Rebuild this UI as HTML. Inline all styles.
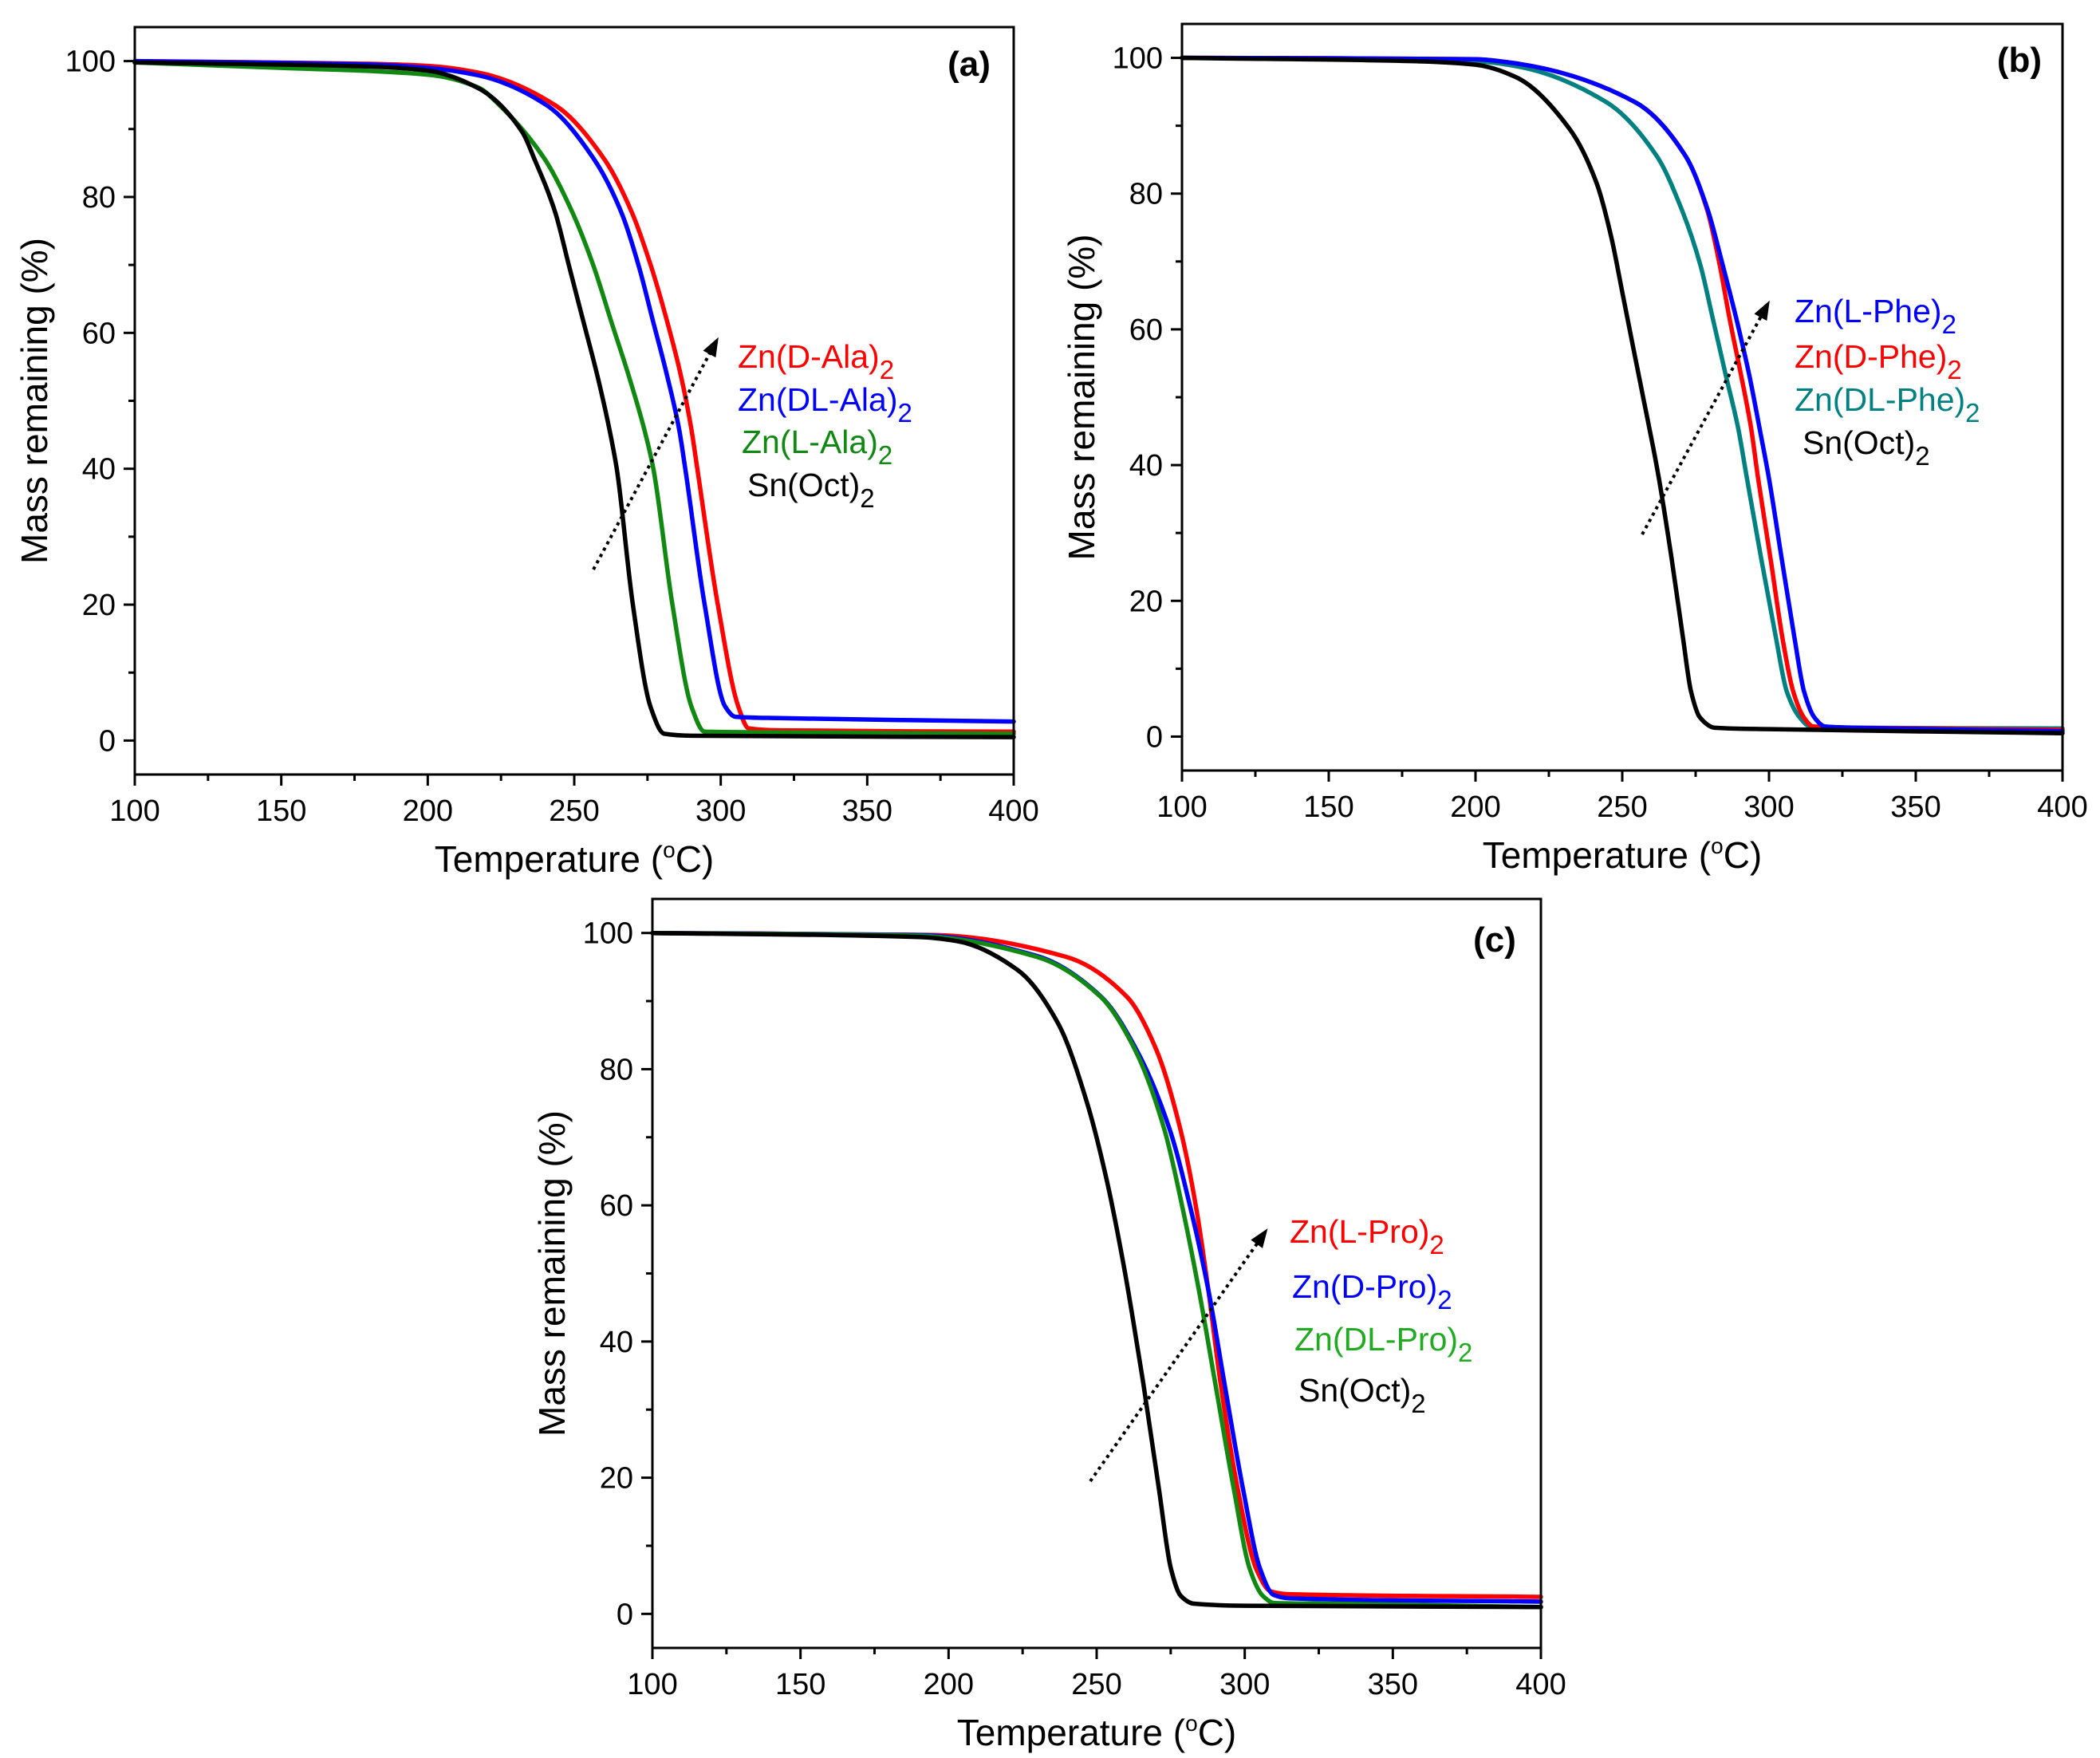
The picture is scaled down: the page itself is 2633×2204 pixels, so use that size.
<!DOCTYPE html>
<html><head><meta charset="utf-8"><style>
body{margin:0;background:#fff;}
svg{display:block;font-family:"Liberation Sans",Arial,sans-serif;}
</style></head><body>
<svg id="fig" width="2633" height="2204" viewBox="0 0 2633 2204" xmlns="http://www.w3.org/2000/svg"></svg>
<script>
// ---- shared axis ticks ----
const xTicks = [100,150,200,250,300,350,400];
const yTicks = [0,20,40,60,80,100];

// ---- panel (a) data ----
const aT_Sn   = [100,180,200,217.3,232.2,236.4,243.6,248.3,253.1,257.9,262,264.5,270,276,280.7,290,400];
const aV_Sn   = [99.8,99.2,98.6,96,89.6,85.6,77.6,69.7,61.7,53.7,45.8,40,20,5,1,0.7,0.5];
const aT_L    = [100,150,200,217.3,224.5,239.9,249.5,256.7,262.6,268.6,273.9,277,283.5,290,294.5,320,400];
const aV_L    = [99.8,99,98,96.1,93.5,85.6,77.6,69.7,61.7,53.7,45.8,40,20,5,1.3,1.2,1.0];
const aT_DL   = [100,180,200,217.3,240.6,256.7,266.2,272.1,276.9,281.7,285.8,287.9,294.5,301.5,305,320,400];
const aV_DL   = [100,99.5,99,97.9,93.5,85.6,77.6,69.7,61.7,53.7,45.8,40,20,5,3.5,3.3,2.8];
const aT_D    = [100,180,200,217.3,243.5,260.2,269.8,276.3,281.7,286.4,290,292,299,306,309.5,320,400];
const aV_D    = [100,99.6,99.3,98.3,93.5,85.6,77.6,69.7,61.7,53.7,45.8,40,20,5,1.8,1.5,1.3];

// ---- panel (b) data ----
const bT_Sn   = [100,180,200,213.6,232.1,241.3,246.3,250,253.7,257.4,260.5,262.5,266.8,270.7,273.4,276.5,281.5,300,400];
const bV_Sn   = [100,99.5,99,97.2,89.5,81.5,73.5,65.5,57.4,49.4,42.7,38,26.3,14.5,6.7,2.8,1.3,1.1,0.5];
const bT_DL   = [100,200,213.6,244.5,261.8,270.4,276.6,280.9,285.2,289.5,292.5,297.3,302.4,306,310.5,314,330,400];
const bV_DL   = [100,99.5,98.8,93.5,85.5,77.5,69.5,61.5,53.4,45.4,38,26.3,14.5,6.7,2.8,1.5,1.3,1.2];
const bT_D    = [100,200,213.6,254.3,271.6,279,283.2,286.6,290.4,293.9,296.3,300.5,304.6,308.2,311.9,315,330,400];
const bV_D    = [100,99.8,99.2,93.5,85.5,77.5,69.5,61.5,53.4,45.4,38,26.3,14.5,6.7,2.8,1.5,1.3,1.0];
const bT_L    = [100,200,213.6,254.3,271.6,279.2,284.2,288.9,293.2,296.8,300,304.3,308.7,311.9,315.5,319,330,400];
const bV_L    = [100,99.8,99.2,93.5,85.5,77.5,69.5,61.5,53.4,45.4,38,26.3,14.5,6.7,2.8,1.5,1.3,0.8];

// ---- panel (c) data ----
const cT_Sn   = [100,190,202.9,223.5,237,246.8,253.6,259,262.1,265.7,271,275.1,278.3,282.8,300,400];
const cV_Sn   = [100,99.4,98.8,94.5,86.7,75,63.3,51.5,43.7,34,18.4,6.6,2.7,1.5,1.2,1.0];
const cT_DL   = [100,189,229.8,251.4,263,272.9,279.1,284.5,290,296.3,301.7,306,310,330,400];
const cV_DL   = [100,99.6,96.5,90.6,82.8,71.1,59.4,47.6,34,18.4,6.6,2.7,1.6,1.5,1.0];
const cT_D    = [100,190,230,251.6,263.5,274.7,281.8,287.7,293.1,299.4,305.2,309.7,315,400];
const cV_D    = [100,99.7,96.6,90.6,82.8,71.1,59.4,47.6,34,18.4,6.6,2.8,2.3,1.8];
const cT_L    = [100,195,239.7,260.3,270.2,278.3,283.7,287.7,291.8,297.6,303.9,308.8,315,400];
const cV_L    = [100,99.7,96.5,90.6,82.8,71.1,59.4,47.6,34,18.4,6.6,3.3,2.9,2.5];

const NS='http://www.w3.org/2000/svg';
const svg=document.getElementById('fig');
function mk(tag,attrs,parent){const e=document.createElementNS(NS,tag);for(const k in attrs)e.setAttribute(k,attrs[k]);(parent||svg).appendChild(e);return e;}

function monoPath(pts){
  const n=pts.length,dx=[],m=[],t=[];
  for(let i=0;i<n-1;i++){dx[i]=pts[i+1][0]-pts[i][0];m[i]=(pts[i+1][1]-pts[i][1])/dx[i];}
  t[0]=m[0];t[n-1]=m[n-2];
  for(let i=1;i<n-1;i++){
    if(m[i-1]*m[i]<=0)t[i]=0;
    else{const w1=2*dx[i]+dx[i-1],w2=dx[i]+2*dx[i-1];t[i]=(w1+w2)/(w1/m[i-1]+w2/m[i]);}
  }
  let d='M'+pts[0][0].toFixed(1)+','+pts[0][1].toFixed(1);
  for(let i=0;i<n-1;i++){
    const h=dx[i]/3;
    d+=`C${(pts[i][0]+h).toFixed(1)},${(pts[i][1]+t[i]*h).toFixed(1)} ${(pts[i+1][0]-h).toFixed(1)},${(pts[i+1][1]-t[i+1]*h).toFixed(1)} ${pts[i+1][0].toFixed(1)},${pts[i+1][1].toFixed(1)}`;
  }
  return d;
}

function panel(p){
  const g=mk('g',{});
  
  
  const X=t=>p.L+(t-100)/300*(p.R-p.L);
  const Y=v=>p.B-(v+5)/110*(p.B-p.T);
  p.series.forEach(s=>{
    const pts=s.t.map((t,i)=>[X(t),Y(s.v[i])]);
    const path=mk('path',{d:monoPath(pts),fill:'none',stroke:s.c,'stroke-width':5.5,'stroke-linejoin':'round','stroke-linecap':'round'},g);
    
    
  });
  const fr=mk('rect',{x:p.L,y:p.T,width:p.R-p.L,height:p.B-p.T,fill:'none',stroke:'#000','stroke-width':3},g);
  
  
  for(let t=100;t<=400;t+=25){
    const major=(t%50===0);
    mk('line',{x1:X(t),x2:X(t),y1:p.B,y2:p.B+(major?14:8),stroke:'#000','stroke-width':3},g);
  }
  xTicks.forEach(t=>{
    const tx=mk('text',{x:X(t),y:p.B+58,'font-size':38,'text-anchor':'middle'},g);
    tx.textContent=t;
    
    
  });
  for(let v=0;v<=100;v+=10){
    const major=(v%20===0);
    mk('line',{x1:p.L,x2:p.L-(major?14:8),y1:Y(v),y2:Y(v),stroke:'#000','stroke-width':3},g);
  }
  yTicks.forEach(v=>{
    const tx=mk('text',{x:p.L-24,y:Y(v)+13,'font-size':38,'text-anchor':'end'},g);
    tx.textContent=v;
    
    
  });
  const xt=mk('text',{x:(p.L+p.R)/2,y:p.B+122,'font-size':46,'text-anchor':'middle'},g);
  xt.innerHTML='Temperature (<tspan dy="-18" font-size="28">o</tspan><tspan dy="18">C)</tspan>';
  
  
  const yt=mk('text',{x:0,y:0,'font-size':46,'text-anchor':'middle',transform:`translate(${p.L-110},${(p.T+p.B)/2}) rotate(-90)`},g);
  yt.textContent='Mass remaining (%)';
  
  
  const pl=mk('text',{x:p.lab[0],y:p.lab[1],'font-size':44,'font-weight':'bold','text-anchor':'middle'},g);
  pl.textContent=p.labText;
  
  
  const a=p.arrow;
  const ln=mk('line',{x1:a[0],y1:a[1],x2:a[2],y2:a[3],stroke:'#000','stroke-width':4,'stroke-dasharray':'4 5'},g);
  
  
  const ang=Math.atan2(a[3]-a[1],a[2]-a[0]);
  const hx=a[2]+Math.cos(ang)*6,hy=a[3]+Math.sin(ang)*6;
  const L1=24,W=9;
  const bx=hx-Math.cos(ang)*L1,by=hy-Math.sin(ang)*L1;
  const head=mk('polygon',{points:`${hx},${hy} ${bx-Math.sin(ang)*W},${by+Math.cos(ang)*W} ${bx+Math.sin(ang)*W},${by-Math.cos(ang)*W}`,fill:'#000'},g);
  
  
  p.legend.forEach(l=>{
    const tx=mk('text',{x:l.x,y:l.y,'font-size':41,fill:l.c},g);
    tx.innerHTML=l.t+'<tspan dy="14" font-size="33">2</tspan>';
    
    
  });
}

panel({name:'panel-a',L:169,R:1271,T:34,B:971,lab:[1215,95],labText:'(a)',
  arrow:[744,714,898,428],
  series:[
    {n:'zn-d-ala',t:aT_D,v:aV_D,c:'#ff0000'},
    {n:'zn-dl-ala',t:aT_DL,v:aV_DL,c:'#0000ff'},
    {n:'zn-l-ala',t:aT_L,v:aV_L,c:'#118811'},
    {n:'sn-oct',t:aT_Sn,v:aV_Sn,c:'#000000'}],
  legend:[
    {x:925,y:461,t:'Zn(D-Ala)',c:'#ff0000'},
    {x:925,y:515,t:'Zn(DL-Ala)',c:'#0000ff'},
    {x:930,y:568,t:'Zn(L-Ala)',c:'#118811'},
    {x:937,y:622,t:'Sn(Oct)',c:'#000000'}]});

panel({name:'panel-b',L:1482,R:2586,T:30,B:966,lab:[2532,90],labText:'(b)',
  arrow:[2059,670,2216,382],
  series:[
    {n:'zn-dl-phe',t:bT_DL,v:bV_DL,c:'#008080'},
    {n:'zn-d-phe',t:bT_D,v:bV_D,c:'#ff0000'},
    {n:'zn-l-phe',t:bT_L,v:bV_L,c:'#0000ff'},
    {n:'sn-oct',t:bT_Sn,v:bV_Sn,c:'#000000'}],
  legend:[
    {x:2250,y:404,t:'Zn(L-Phe)',c:'#0000ff'},
    {x:2250,y:461,t:'Zn(D-Phe)',c:'#ff0000'},
    {x:2250,y:515,t:'Zn(DL-Phe)',c:'#008080'},
    {x:2260,y:569,t:'Sn(Oct)',c:'#000000'}]});

panel({name:'panel-c',L:818,R:1932,T:1127,B:2066,lab:[1874,1193],labText:'(c)',
  arrow:[1367,1857,1586,1545],
  series:[
    {n:'zn-l-pro',t:cT_L,v:cV_L,c:'#ff0000'},
    {n:'zn-d-pro',t:cT_D,v:cV_D,c:'#0000ff'},
    {n:'zn-dl-pro',t:cT_DL,v:cV_DL,c:'#118811'},
    {n:'sn-oct',t:cT_Sn,v:cV_Sn,c:'#000000'}],
  legend:[
    {x:1617,y:1558,t:'Zn(L-Pro)',c:'#ff0000'},
    {x:1620,y:1627,t:'Zn(D-Pro)',c:'#0000ff'},
    {x:1623,y:1693,t:'Zn(DL-Pro)',c:'#22aa22'},
    {x:1628,y:1757,t:'Sn(Oct)',c:'#000000'}]});
</script>
</body></html>
